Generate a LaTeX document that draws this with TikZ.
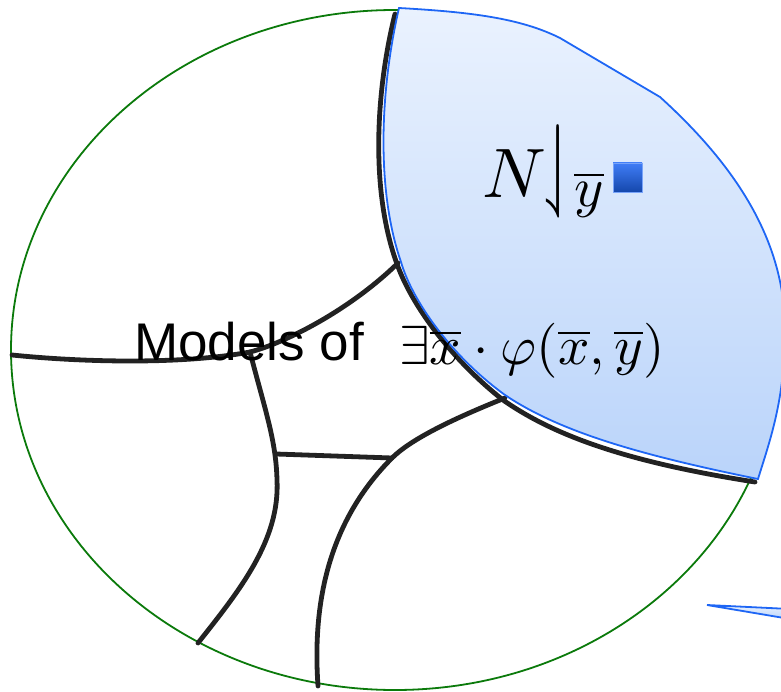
\documentclass[tikz,border=0pt]{standalone}
\usepackage{amssymb}
\usepackage{fontspec}
\newfontfamily\helv{Liberation Sans}
\definecolor{regtop}{HTML}{EAF2FE}
\definecolor{regbot}{HTML}{BAD4FA}
\definecolor{regedge}{HTML}{1E66F5}
\definecolor{ovalgreen}{HTML}{0B7A0B}
\definecolor{cutgray}{HTML}{222222}
\tikzset{
  cut/.style={draw=cutgray,line width=4.8pt,line cap=round},
  region/.style={draw=regedge,line width=1.8pt,top color=regtop,bottom color=regbot},
  bigtext/.style={inner sep=0pt,anchor=base west}
}
\begin{document}
\begin{tikzpicture}[x=1pt,y=-1pt]
  \useasboundingbox (0,0) rectangle (781,692);
  \clip (0,0) rectangle (781,692);
  \draw[ovalgreen,line width=1.8pt] (395,350) ellipse [x radius=384,y radius=340];
  \draw[cut] (395,14) .. controls (376,90) and (370,190) .. (397,264)
             .. controls (412,306) and (452,360) .. (503,400)
             .. controls (560,440) and (640,464) .. (755,482);
  \draw[cut] (398,263) .. controls (350,310) and (285,343) .. (250,352)
             .. controls (180,365) and (80,362) .. (12,355);
  \draw[cut] (250,352) .. controls (265,410) and (276,440) .. (277,480)
             .. controls (280,540) and (240,590) .. (198,643);
  \draw[cut] (276,454) -- (392,458);
  \draw[cut] (505,398) .. controls (450,420) and (410,440) .. (392,458)
             .. controls (330,520) and (312,600) .. (318,686);
  \path[region] (399,8) .. controls (470,12) and (520,18) .. (560,38) -- (660,97)
             .. controls (735,165) and (785,240) .. (785,330)
             .. controls (785,400) and (770,440) .. (758,479)
             .. controls (640,455) and (560,432) .. (505,395)
             .. controls (450,355) and (412,300) .. (401,262)
             .. controls (376,190) and (380,90) .. cycle;
  \path[region] (707,605) -- (790,609) -- (790,619) -- cycle;
  \node[bigtext,scale=7] (nsym) at (481,198) {$N$};
  \node[bigtext,xscale=7,yscale=10.5] (harp) at (542,198) {$\downharpoonleft$};
  \node[bigtext,scale=5.6] (ysub) at (573,207) {$\overline{y}$};
  \shade[top color=regedge!85,bottom color=regedge!70!black,draw=regedge!60] (613,163) rectangle (642,192);
  \node[bigtext,scale=5.3,font=\helv] (models) at (133,360) {Models of};
  \node[bigtext,scale=5.5] (formula) at (398,364) {$\exists\overline{x}\cdot\varphi(\overline{x},\overline{y})$};
\end{tikzpicture}
\end{document}
